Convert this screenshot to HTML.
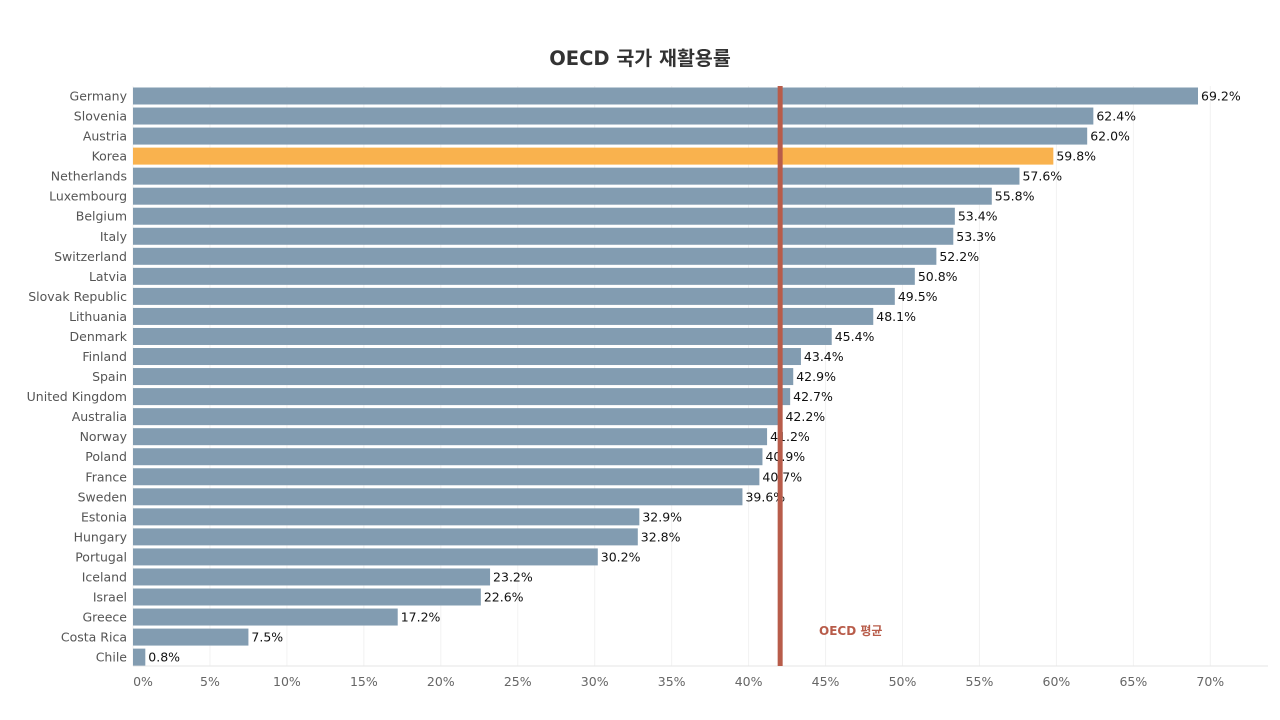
<!DOCTYPE html>
<html><head><meta charset="utf-8"><style>
html,body{margin:0;padding:0;background:#fff;}
svg{display:block;font-family:"DejaVu Sans","Liberation Sans","Noto Sans CJK KR",sans-serif;}
</style></head><body>
<svg id="c" width="1280" height="720" xmlns="http://www.w3.org/2000/svg">
<text x="640" y="65" text-anchor="middle" font-size="19.5" font-weight="bold" fill="#333" font-family="'DejaVu Sans','Noto Sans CJK KR',sans-serif">OECD 국가 재활용률</text>
<g id="g"></g>
</svg>
<script>
var names=["Germany","Slovenia","Austria","Korea","Netherlands","Luxembourg","Belgium","Italy","Switzerland","Latvia","Slovak Republic","Lithuania","Denmark","Finland","Spain","United Kingdom","Australia","Norway","Poland","France","Sweden","Estonia","Hungary","Portugal","Iceland","Israel","Greece","Costa Rica","Chile"];
var vals=[69.2,62.4,62.0,59.8,57.6,55.8,53.4,53.3,52.2,50.8,49.5,48.1,45.4,43.4,42.9,42.7,42.2,41.2,40.9,40.7,39.6,32.9,32.8,30.2,23.2,22.6,17.2,7.5,0.8];
var x0=133,s=1065/69.2,h='';
for(var k=0;k<=14;k++){var x=x0+k*5*s;
 h+='<line x1="'+x+'" y1="86" x2="'+x+'" y2="666" stroke="#f2f2f2" stroke-width="1"/>';
 h+='<text x="'+(k==0?143:x)+'" y="686" text-anchor="middle" font-size="12.5" fill="#666">'+(k*5)+'%</text>';}
h+='<line x1="'+x0+'" y1="666" x2="1268" y2="666" stroke="#e6e6e6" stroke-width="1"/>';
for(var i=0;i<names.length;i++){var cy=96+20.04*i,w=vals[i]*s;
 h+='<rect x="'+x0+'" y="'+(cy-8.5)+'" width="'+w+'" height="17" fill="'+(i==3?'#f9b24e':'#829cb1')+'"/>';
 h+='<text x="127" y="'+(cy+4.5)+'" text-anchor="end" font-size="12.5" fill="#555">'+names[i]+'</text>';
 h+='<text x="'+(x0+w+3)+'" y="'+(cy+4.5)+'" font-size="12.5" fill="#111">'+vals[i].toFixed(1)+'%</text>';}
var ax=x0+42.05*s;
h+='<rect x="'+(ax-2.5)+'" y="86" width="5" height="580" fill="#b85c4a"/>';
h+='<text x="819" y="635" font-size="12" font-weight="bold" fill="#b85c4a" font-family="\'DejaVu Sans\',\'Noto Sans CJK KR\',sans-serif">OECD 평균</text>';
document.getElementById('g').innerHTML=h;
</script>
</body></html>
